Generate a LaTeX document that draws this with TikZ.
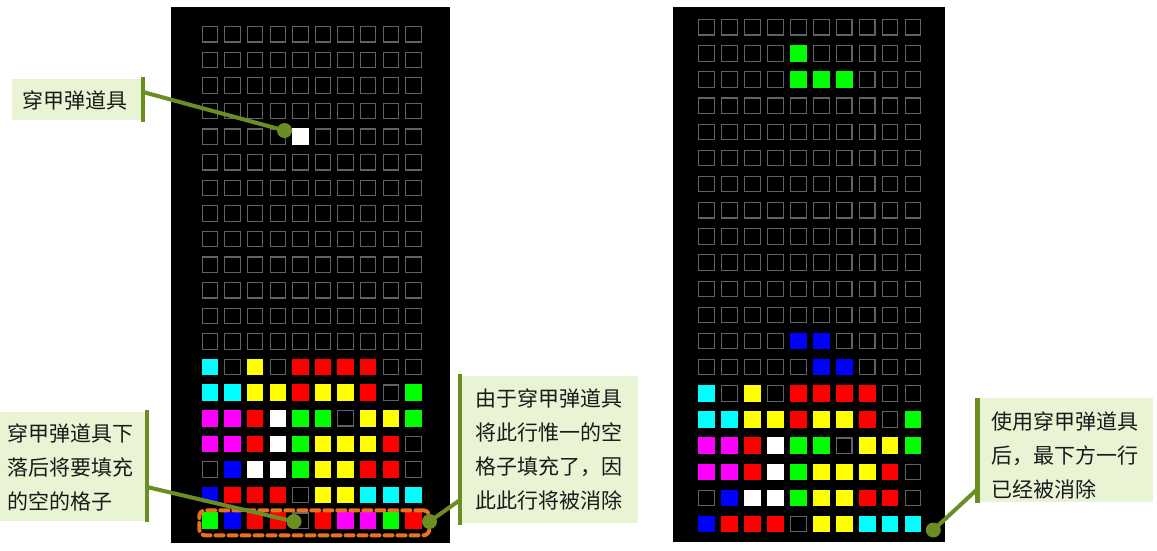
\documentclass[tikz,border=0pt]{standalone}
\usepackage{fontspec}
\newfontfamily\cjk{Noto Sans CJK SC}
\definecolor{gridgray}{HTML}{5F6266}
\definecolor{olivebar}{HTML}{6B8E23}
\definecolor{boxfill}{HTML}{E8F4D4}
\definecolor{hlorange}{HTML}{E8701E}
\definecolor{txt}{HTML}{1A1A1A}
\definecolor{C}{HTML}{00FFFF}\definecolor{Y}{HTML}{FFFF00}\definecolor{R}{HTML}{FF0000}
\definecolor{G}{HTML}{00FF00}\definecolor{M}{HTML}{FF00FF}\definecolor{B}{HTML}{0000FF}
\definecolor{W}{HTML}{FFFFFF}
\tikzset{
  board/.style={fill=black},
  emptycell/.style={draw=gridgray,fill=black,line width=1.1pt},
  cbox/.style={fill=boxfill,inner sep=0pt,outer sep=0pt},
  ctext/.style={font=\cjk\fontsize{21}{34}\selectfont,text=txt,inner sep=0pt,align=left},
  cbar/.style={draw=olivebar,line width=4.5pt},
  conn/.style={draw=olivebar,line width=4pt},
  cdot/.style={fill=olivebar},
  hlbox/.style={draw=hlorange,line width=4pt,dash pattern=on 8pt off 5pt,line cap=round,rounded corners=6pt,inner sep=0pt}
}
\def\S{16.5}
\begin{document}
\begin{tikzpicture}[x=1pt,y=-1pt]
\useasboundingbox (0,0) rectangle (1157,550);
\fill[white] (0,0) rectangle (1157,550);
% boards
\path[board] (171,7) rectangle (450,543);
\path[board] (672.7,7) rectangle (945,542);
% left board
\def\LX{201.7}\def\LY{26}\def\LDX{22.6}\def\LDY{25.6}
\foreach \r in {0,...,19}{\foreach \c in {0,...,9}{
  \draw[emptycell] ({\LX+\c*\LDX+0.55},{\LY+\r*\LDY+0.55}) rectangle ++(\S-1.1,\S-1.1);}}
\foreach \r/\cells in {
  4/{none,none,none,none,W,none,none,none,none,none},
  13/{C,none,Y,none,R,R,R,R,none,none},
  14/{C,C,Y,Y,R,Y,Y,R,none,G},
  15/{M,M,R,W,G,G,none,Y,Y,G},
  16/{M,M,R,W,G,Y,Y,Y,R,none},
  17/{none,B,W,W,G,Y,Y,R,R,none},
  18/{B,R,R,R,none,Y,Y,C,C,C},
  19/{G,B,R,R,none,R,M,M,G,R}}{
  \foreach \t [count=\c from 0] in \cells {
    \path[fill=\t] ({\LX+\c*\LDX},{\LY+\r*\LDY}) rectangle ++(\S,\S);}}
% right board
\def\RX{698.3}\def\RY{19}\def\RDX{22.96}\def\RDY{26.15}
\foreach \r in {0,...,19}{\foreach \c in {0,...,9}{
  \draw[emptycell] ({\RX+\c*\RDX+0.55},{\RY+\r*\RDY+0.55}) rectangle ++(\S-1.1,\S-1.1);}}
\foreach \r/\cells in {
  1/{none,none,none,none,G,none,none,none,none,none},
  2/{none,none,none,none,G,G,G,none,none,none},
  12/{none,none,none,none,B,B,none,none,none,none},
  13/{none,none,none,none,none,B,B,none,none,none},
  14/{C,none,Y,none,R,R,R,R,none,none},
  15/{C,C,Y,Y,R,Y,Y,R,none,G},
  16/{M,M,R,W,G,G,none,Y,Y,G},
  17/{M,M,R,W,G,Y,Y,Y,R,none},
  18/{none,B,W,W,G,Y,Y,R,R,none},
  19/{B,R,R,R,none,Y,Y,C,C,C}}{
  \foreach \t [count=\c from 0] in \cells {
    \path[fill=\t] ({\RX+\c*\RDX},{\RY+\r*\RDY}) rectangle ++(\S,\S);}}
% highlighted row
\node[hlbox,minimum width=230pt,minimum height=25pt,anchor=north west] (hl) at (197.3,508.3) {};
% callout boxes
\node[cbox,minimum width=129.7pt,minimum height=41pt,anchor=north west] (c1) at (12.3,79) {};
\node[cbox,minimum width=145pt,minimum height=108.4pt,anchor=north west] (c2) at (0,412.3) {};
\node[cbox,minimum width=176.3pt,minimum height=146.7pt,anchor=north west] (c3) at (462,376) {};
\node[cbox,minimum width=173.3pt,minimum height=103.4pt,anchor=north west] (c4) at (980,398.3) {};
% texts
\node[ctext] (t1) at (75,100) {穿甲弹道具};
\node[ctext,anchor=west] (t2) at (7.3,467.5) {穿甲弹道具下\\落后将要填充\\的空的格子};
\node[ctext,anchor=west] (t3) at (475,449.5) {由于穿甲弹道具\\将此行惟一的空\\格子填充了，因\\此此行将被消除};
\node[ctext,anchor=west] (t4) at (991.7,455.5) {使用穿甲弹道具\\后，最下方一行\\已经被消除};
% bars
\coordinate (b1t) at (143,77.3); \coordinate (b1b) at (143,121.7);
\coordinate (b2t) at (147,410);  \coordinate (b2b) at (147,521.7);
\coordinate (b3t) at (460,374);  \coordinate (b3b) at (460,525);
\coordinate (b4t) at (977.5,398); \coordinate (b4b) at (977.5,503);
\draw[cbar] (b1t) -- (b1b);
\draw[cbar] (b2t) -- (b2b);
\draw[cbar] (b3t) -- (b3b);
\draw[cbar] (b4t) -- (b4b);
% connector ends
\coordinate (s1) at (143,92);   \coordinate (d1) at (284.5,130.5);
\coordinate (s2) at (147,487);  \coordinate (d2) at (294,521.5);
\coordinate (s3) at (460,500);  \coordinate (d3) at (429.5,521.5);
\coordinate (s4) at (977.5,489); \coordinate (d4) at (933.3,530);
\draw[conn] (s1) -- (d1);
\draw[conn] (s2) -- (d2);
\draw[conn] (s3) -- (d3);
\draw[conn] (s4) -- (d4);
\foreach \d in {d1,d2,d3,d4} \fill[cdot] (\d) circle (7.5);
\end{tikzpicture}
\end{document}
